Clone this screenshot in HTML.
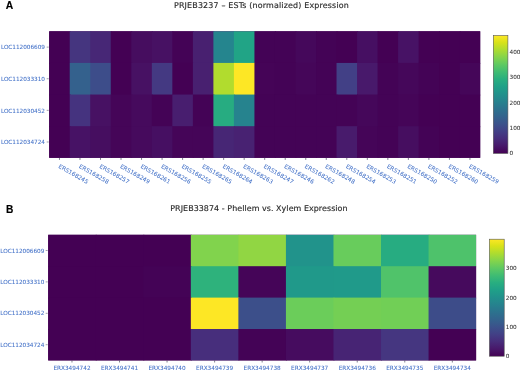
<!DOCTYPE html><html><head><meta charset="utf-8"><title>Expression heatmaps</title><style>html,body{margin:0;padding:0;background:#fff;overflow:hidden}svg{display:block}</style></head><body><svg width="520" height="371" viewBox="0 0 520 371" style="font-family:'DejaVu Sans','Liberation Sans',sans-serif"><rect width="520" height="371" fill="#fff"/><text x="5.7" y="8.6" font-family="'Liberation Sans',sans-serif" font-weight="bold" font-size="10.3" fill="#000" stroke="#000" stroke-width="0.15">A</text><text x="5.9" y="212.5" font-family="'Liberation Sans',sans-serif" font-weight="bold" font-size="10.2" fill="#000" stroke="#000" stroke-width="0.15">B</text><text x="261.4" y="8" text-anchor="middle" font-size="7.95" fill="#2a2a2a" stroke="#2a2a2a" stroke-width="0.15" textLength="174.8">PRJEB3237 – ESTs (normalized) Expression</text><text x="258.9" y="211.1" text-anchor="middle" font-size="7.95" fill="#2a2a2a" stroke="#2a2a2a" stroke-width="0.15" textLength="177.3">PRJEB33874 - Phellem vs. Xylem Expression</text><g><rect x="49.20" y="31.30" width="431.00" height="126.50" fill="#440154"/></g><g><rect x="49.20" y="31.30" width="21.52" height="32.62" fill="#440154"/><rect x="69.72" y="31.30" width="21.52" height="32.62" fill="#45357f"/><rect x="90.25" y="31.30" width="21.52" height="32.62" fill="#472776"/><rect x="110.77" y="31.30" width="21.52" height="32.62" fill="#440154"/><rect x="131.30" y="31.30" width="21.52" height="32.62" fill="#460d5f"/><rect x="151.82" y="31.30" width="21.52" height="32.62" fill="#471163"/><rect x="172.34" y="31.30" width="21.52" height="32.62" fill="#440356"/><rect x="192.87" y="31.30" width="21.52" height="32.62" fill="#482070"/><rect x="213.39" y="31.30" width="21.52" height="32.62" fill="#25858e"/><rect x="233.91" y="31.30" width="21.52" height="32.62" fill="#21a486"/><rect x="254.44" y="31.30" width="21.52" height="32.62" fill="#440356"/><rect x="274.96" y="31.30" width="21.52" height="32.62" fill="#440356"/><rect x="295.49" y="31.30" width="21.52" height="32.62" fill="#45085b"/><rect x="316.01" y="31.30" width="21.52" height="32.62" fill="#440356"/><rect x="336.53" y="31.30" width="21.52" height="32.62" fill="#440154"/><rect x="357.06" y="31.30" width="21.52" height="32.62" fill="#460f62"/><rect x="377.58" y="31.30" width="21.52" height="32.62" fill="#440154"/><rect x="398.10" y="31.30" width="21.52" height="32.62" fill="#471265"/><rect x="418.63" y="31.30" width="21.52" height="32.62" fill="#440154"/><rect x="439.15" y="31.30" width="21.52" height="32.62" fill="#440154"/><rect x="459.68" y="31.30" width="20.52" height="32.62" fill="#440154"/><rect x="49.20" y="62.93" width="21.52" height="32.62" fill="#440154"/><rect x="69.72" y="62.93" width="21.52" height="32.62" fill="#34618d"/><rect x="90.25" y="62.93" width="21.52" height="32.62" fill="#3d4d8a"/><rect x="110.77" y="62.93" width="21.52" height="32.62" fill="#440154"/><rect x="131.30" y="62.93" width="21.52" height="32.62" fill="#471163"/><rect x="151.82" y="62.93" width="21.52" height="32.62" fill="#443982"/><rect x="172.34" y="62.93" width="21.52" height="32.62" fill="#440154"/><rect x="192.87" y="62.93" width="21.52" height="32.62" fill="#482070"/><rect x="213.39" y="62.93" width="21.52" height="32.62" fill="#b1dc2e"/><rect x="233.91" y="62.93" width="21.52" height="32.62" fill="#fde725"/><rect x="254.44" y="62.93" width="21.52" height="32.62" fill="#450457"/><rect x="274.96" y="62.93" width="21.52" height="32.62" fill="#440356"/><rect x="295.49" y="62.93" width="21.52" height="32.62" fill="#450659"/><rect x="316.01" y="62.93" width="21.52" height="32.62" fill="#440356"/><rect x="336.53" y="62.93" width="21.52" height="32.62" fill="#424086"/><rect x="357.06" y="62.93" width="21.52" height="32.62" fill="#48196b"/><rect x="377.58" y="62.93" width="21.52" height="32.62" fill="#440356"/><rect x="398.10" y="62.93" width="21.52" height="32.62" fill="#45075a"/><rect x="418.63" y="62.93" width="21.52" height="32.62" fill="#440356"/><rect x="439.15" y="62.93" width="21.52" height="32.62" fill="#440154"/><rect x="459.68" y="62.93" width="20.52" height="32.62" fill="#450659"/><rect x="49.20" y="94.55" width="21.52" height="32.62" fill="#440154"/><rect x="69.72" y="94.55" width="21.52" height="32.62" fill="#45337f"/><rect x="90.25" y="94.55" width="21.52" height="32.62" fill="#471163"/><rect x="110.77" y="94.55" width="21.52" height="32.62" fill="#450558"/><rect x="131.30" y="94.55" width="21.52" height="32.62" fill="#460a5d"/><rect x="151.82" y="94.55" width="21.52" height="32.62" fill="#440356"/><rect x="172.34" y="94.55" width="21.52" height="32.62" fill="#481e6f"/><rect x="192.87" y="94.55" width="21.52" height="32.62" fill="#440356"/><rect x="213.39" y="94.55" width="21.52" height="32.62" fill="#27ac81"/><rect x="233.91" y="94.55" width="21.52" height="32.62" fill="#26838e"/><rect x="254.44" y="94.55" width="21.52" height="32.62" fill="#440356"/><rect x="274.96" y="94.55" width="21.52" height="32.62" fill="#440356"/><rect x="295.49" y="94.55" width="21.52" height="32.62" fill="#440356"/><rect x="316.01" y="94.55" width="21.52" height="32.62" fill="#440356"/><rect x="336.53" y="94.55" width="21.52" height="32.62" fill="#440356"/><rect x="357.06" y="94.55" width="21.52" height="32.62" fill="#45075a"/><rect x="377.58" y="94.55" width="21.52" height="32.62" fill="#440356"/><rect x="398.10" y="94.55" width="21.52" height="32.62" fill="#450558"/><rect x="418.63" y="94.55" width="21.52" height="32.62" fill="#440154"/><rect x="439.15" y="94.55" width="21.52" height="32.62" fill="#440154"/><rect x="459.68" y="94.55" width="20.52" height="32.62" fill="#440154"/><rect x="49.20" y="126.18" width="21.52" height="31.63" fill="#440154"/><rect x="69.72" y="126.18" width="21.52" height="31.63" fill="#471265"/><rect x="90.25" y="126.18" width="21.52" height="31.63" fill="#460e60"/><rect x="110.77" y="126.18" width="21.52" height="31.63" fill="#450558"/><rect x="131.30" y="126.18" width="21.52" height="31.63" fill="#460a5d"/><rect x="151.82" y="126.18" width="21.52" height="31.63" fill="#460f62"/><rect x="172.34" y="126.18" width="21.52" height="31.63" fill="#450558"/><rect x="192.87" y="126.18" width="21.52" height="31.63" fill="#450558"/><rect x="213.39" y="126.18" width="21.52" height="31.63" fill="#472675"/><rect x="233.91" y="126.18" width="21.52" height="31.63" fill="#482272"/><rect x="254.44" y="126.18" width="21.52" height="31.63" fill="#440356"/><rect x="274.96" y="126.18" width="21.52" height="31.63" fill="#440356"/><rect x="295.49" y="126.18" width="21.52" height="31.63" fill="#440356"/><rect x="316.01" y="126.18" width="21.52" height="31.63" fill="#440356"/><rect x="336.53" y="126.18" width="21.52" height="31.63" fill="#481b6c"/><rect x="357.06" y="126.18" width="21.52" height="31.63" fill="#450558"/><rect x="377.58" y="126.18" width="21.52" height="31.63" fill="#440356"/><rect x="398.10" y="126.18" width="21.52" height="31.63" fill="#460e60"/><rect x="418.63" y="126.18" width="21.52" height="31.63" fill="#440356"/><rect x="439.15" y="126.18" width="21.52" height="31.63" fill="#440154"/><rect x="459.68" y="126.18" width="20.52" height="31.63" fill="#440154"/></g><line x1="46.70" y1="47.11" x2="48.70" y2="47.11" stroke="#6a6a7c" stroke-width="0.65"/><text x="44.95" y="49.48" text-anchor="end" font-size="5.75" fill="#4472c8" stroke="#4472c8" stroke-width="0.06" textLength="44.0">LOC112006609</text><line x1="46.70" y1="78.74" x2="48.70" y2="78.74" stroke="#6a6a7c" stroke-width="0.65"/><text x="44.95" y="81.11" text-anchor="end" font-size="5.75" fill="#4472c8" stroke="#4472c8" stroke-width="0.06" textLength="44.0">LOC112033310</text><line x1="46.70" y1="110.36" x2="48.70" y2="110.36" stroke="#6a6a7c" stroke-width="0.65"/><text x="44.95" y="112.73" text-anchor="end" font-size="5.75" fill="#4472c8" stroke="#4472c8" stroke-width="0.06" textLength="44.0">LOC112030452</text><line x1="46.70" y1="141.99" x2="48.70" y2="141.99" stroke="#6a6a7c" stroke-width="0.65"/><text x="44.95" y="144.36" text-anchor="end" font-size="5.75" fill="#4472c8" stroke="#4472c8" stroke-width="0.06" textLength="44.0">LOC112034724</text><line x1="59.46" y1="157.80" x2="59.46" y2="159.90" stroke="#4a4a62" stroke-width="0.7"/><text transform="translate(58.06,167.40) rotate(30)" font-size="5.75" fill="#4472c8" stroke="#4472c8" stroke-width="0.06">ERS168245</text><line x1="79.99" y1="157.80" x2="79.99" y2="159.90" stroke="#4a4a62" stroke-width="0.7"/><text transform="translate(78.59,167.40) rotate(30)" font-size="5.75" fill="#4472c8" stroke="#4472c8" stroke-width="0.06">ERS168258</text><line x1="100.51" y1="157.80" x2="100.51" y2="159.90" stroke="#4a4a62" stroke-width="0.7"/><text transform="translate(99.11,167.40) rotate(30)" font-size="5.75" fill="#4472c8" stroke="#4472c8" stroke-width="0.06">ERS168257</text><line x1="121.03" y1="157.80" x2="121.03" y2="159.90" stroke="#4a4a62" stroke-width="0.7"/><text transform="translate(119.63,167.40) rotate(30)" font-size="5.75" fill="#4472c8" stroke="#4472c8" stroke-width="0.06">ERS168249</text><line x1="141.56" y1="157.80" x2="141.56" y2="159.90" stroke="#4a4a62" stroke-width="0.7"/><text transform="translate(140.16,167.40) rotate(30)" font-size="5.75" fill="#4472c8" stroke="#4472c8" stroke-width="0.06">ERS168261</text><line x1="162.08" y1="157.80" x2="162.08" y2="159.90" stroke="#4a4a62" stroke-width="0.7"/><text transform="translate(160.68,167.40) rotate(30)" font-size="5.75" fill="#4472c8" stroke="#4472c8" stroke-width="0.06">ERS168256</text><line x1="182.60" y1="157.80" x2="182.60" y2="159.90" stroke="#4a4a62" stroke-width="0.7"/><text transform="translate(181.20,167.40) rotate(30)" font-size="5.75" fill="#4472c8" stroke="#4472c8" stroke-width="0.06">ERS168255</text><line x1="203.13" y1="157.80" x2="203.13" y2="159.90" stroke="#4a4a62" stroke-width="0.7"/><text transform="translate(201.73,167.40) rotate(30)" font-size="5.75" fill="#4472c8" stroke="#4472c8" stroke-width="0.06">ERS168265</text><line x1="223.65" y1="157.80" x2="223.65" y2="159.90" stroke="#4a4a62" stroke-width="0.7"/><text transform="translate(222.25,167.40) rotate(30)" font-size="5.75" fill="#4472c8" stroke="#4472c8" stroke-width="0.06">ERS168264</text><line x1="244.18" y1="157.80" x2="244.18" y2="159.90" stroke="#4a4a62" stroke-width="0.7"/><text transform="translate(242.78,167.40) rotate(30)" font-size="5.75" fill="#4472c8" stroke="#4472c8" stroke-width="0.06">ERS168263</text><line x1="264.70" y1="157.80" x2="264.70" y2="159.90" stroke="#4a4a62" stroke-width="0.7"/><text transform="translate(263.30,167.40) rotate(30)" font-size="5.75" fill="#4472c8" stroke="#4472c8" stroke-width="0.06">ERS168247</text><line x1="285.22" y1="157.80" x2="285.22" y2="159.90" stroke="#4a4a62" stroke-width="0.7"/><text transform="translate(283.82,167.40) rotate(30)" font-size="5.75" fill="#4472c8" stroke="#4472c8" stroke-width="0.06">ERS168246</text><line x1="305.75" y1="157.80" x2="305.75" y2="159.90" stroke="#4a4a62" stroke-width="0.7"/><text transform="translate(304.35,167.40) rotate(30)" font-size="5.75" fill="#4472c8" stroke="#4472c8" stroke-width="0.06">ERS168262</text><line x1="326.27" y1="157.80" x2="326.27" y2="159.90" stroke="#4a4a62" stroke-width="0.7"/><text transform="translate(324.87,167.40) rotate(30)" font-size="5.75" fill="#4472c8" stroke="#4472c8" stroke-width="0.06">ERS168248</text><line x1="346.80" y1="157.80" x2="346.80" y2="159.90" stroke="#4a4a62" stroke-width="0.7"/><text transform="translate(345.40,167.40) rotate(30)" font-size="5.75" fill="#4472c8" stroke="#4472c8" stroke-width="0.06">ERS168254</text><line x1="367.32" y1="157.80" x2="367.32" y2="159.90" stroke="#4a4a62" stroke-width="0.7"/><text transform="translate(365.92,167.40) rotate(30)" font-size="5.75" fill="#4472c8" stroke="#4472c8" stroke-width="0.06">ERS168253</text><line x1="387.84" y1="157.80" x2="387.84" y2="159.90" stroke="#4a4a62" stroke-width="0.7"/><text transform="translate(386.44,167.40) rotate(30)" font-size="5.75" fill="#4472c8" stroke="#4472c8" stroke-width="0.06">ERS168251</text><line x1="408.37" y1="157.80" x2="408.37" y2="159.90" stroke="#4a4a62" stroke-width="0.7"/><text transform="translate(406.97,167.40) rotate(30)" font-size="5.75" fill="#4472c8" stroke="#4472c8" stroke-width="0.06">ERS168250</text><line x1="428.89" y1="157.80" x2="428.89" y2="159.90" stroke="#4a4a62" stroke-width="0.7"/><text transform="translate(427.49,167.40) rotate(30)" font-size="5.75" fill="#4472c8" stroke="#4472c8" stroke-width="0.06">ERS168252</text><line x1="449.41" y1="157.80" x2="449.41" y2="159.90" stroke="#4a4a62" stroke-width="0.7"/><text transform="translate(448.01,167.40) rotate(30)" font-size="5.75" fill="#4472c8" stroke="#4472c8" stroke-width="0.06">ERS168260</text><line x1="469.94" y1="157.80" x2="469.94" y2="159.90" stroke="#4a4a62" stroke-width="0.7"/><text transform="translate(468.54,167.40) rotate(30)" font-size="5.75" fill="#4472c8" stroke="#4472c8" stroke-width="0.06">ERS168259</text><defs><linearGradient id="ga" x1="0" y1="1" x2="0" y2="0"><stop offset="0.0000" stop-color="#440154"/><stop offset="0.0627" stop-color="#48186a"/><stop offset="0.1255" stop-color="#472d7b"/><stop offset="0.1882" stop-color="#424086"/><stop offset="0.2510" stop-color="#3b528b"/><stop offset="0.3137" stop-color="#33638d"/><stop offset="0.3765" stop-color="#2c728e"/><stop offset="0.4392" stop-color="#26828e"/><stop offset="0.5020" stop-color="#21918c"/><stop offset="0.5647" stop-color="#1fa088"/><stop offset="0.6275" stop-color="#28ae80"/><stop offset="0.6902" stop-color="#3fbc73"/><stop offset="0.7529" stop-color="#5ec962"/><stop offset="0.8157" stop-color="#84d44b"/><stop offset="0.8784" stop-color="#addc30"/><stop offset="0.9412" stop-color="#d8e219"/><stop offset="1.0000" stop-color="#fde725"/></linearGradient></defs><rect x="493.30" y="35.50" width="14.60" height="117.90" fill="url(#ga)" stroke="#555" stroke-width="0.6"/><text x="509.50" y="155.37" font-size="5.75" fill="#333" stroke="#333" stroke-width="0.06">0</text><text x="509.50" y="129.97" font-size="5.75" fill="#333" stroke="#333" stroke-width="0.06">100</text><text x="509.50" y="104.67" font-size="5.75" fill="#333" stroke="#333" stroke-width="0.06">200</text><text x="509.50" y="79.27" font-size="5.75" fill="#333" stroke="#333" stroke-width="0.06">300</text><text x="509.50" y="53.87" font-size="5.75" fill="#333" stroke="#333" stroke-width="0.06">400</text><g><rect x="48.20" y="234.80" width="427.90" height="125.60" fill="#440154"/></g><g><rect x="48.20" y="234.80" width="48.54" height="32.40" fill="#440154"/><rect x="95.74" y="234.80" width="48.54" height="32.40" fill="#440154"/><rect x="143.29" y="234.80" width="48.54" height="32.40" fill="#440154"/><rect x="190.83" y="234.80" width="48.54" height="32.40" fill="#81d34d"/><rect x="238.38" y="234.80" width="48.54" height="32.40" fill="#91d643"/><rect x="285.92" y="234.80" width="48.54" height="32.40" fill="#21938b"/><rect x="333.47" y="234.80" width="48.54" height="32.40" fill="#68cc5c"/><rect x="381.01" y="234.80" width="48.54" height="32.40" fill="#27ac81"/><rect x="428.56" y="234.80" width="47.54" height="32.40" fill="#4ec26b"/><rect x="48.20" y="266.20" width="48.54" height="32.40" fill="#440154"/><rect x="95.74" y="266.20" width="48.54" height="32.40" fill="#440154"/><rect x="143.29" y="266.20" width="48.54" height="32.40" fill="#440356"/><rect x="190.83" y="266.20" width="48.54" height="32.40" fill="#2eb27c"/><rect x="238.38" y="266.20" width="48.54" height="32.40" fill="#450558"/><rect x="285.92" y="266.20" width="48.54" height="32.40" fill="#20998a"/><rect x="333.47" y="266.20" width="48.54" height="32.40" fill="#209a8a"/><rect x="381.01" y="266.20" width="48.54" height="32.40" fill="#50c36a"/><rect x="428.56" y="266.20" width="47.54" height="32.40" fill="#460a5d"/><rect x="48.20" y="297.60" width="48.54" height="32.40" fill="#440154"/><rect x="95.74" y="297.60" width="48.54" height="32.40" fill="#440154"/><rect x="143.29" y="297.60" width="48.54" height="32.40" fill="#440154"/><rect x="190.83" y="297.60" width="48.54" height="32.40" fill="#fde725"/><rect x="238.38" y="297.60" width="48.54" height="32.40" fill="#3c4f8a"/><rect x="285.92" y="297.60" width="48.54" height="32.40" fill="#6bcd5a"/><rect x="333.47" y="297.60" width="48.54" height="32.40" fill="#74cf54"/><rect x="381.01" y="297.60" width="48.54" height="32.40" fill="#71cf56"/><rect x="428.56" y="297.60" width="47.54" height="32.40" fill="#3d4c89"/><rect x="48.20" y="329.00" width="48.54" height="31.40" fill="#440154"/><rect x="95.74" y="329.00" width="48.54" height="31.40" fill="#440154"/><rect x="143.29" y="329.00" width="48.54" height="31.40" fill="#440154"/><rect x="190.83" y="329.00" width="48.54" height="31.40" fill="#472e7c"/><rect x="238.38" y="329.00" width="48.54" height="31.40" fill="#440356"/><rect x="285.92" y="329.00" width="48.54" height="31.40" fill="#460c5f"/><rect x="333.47" y="329.00" width="48.54" height="31.40" fill="#472474"/><rect x="381.01" y="329.00" width="48.54" height="31.40" fill="#453680"/><rect x="428.56" y="329.00" width="47.54" height="31.40" fill="#440154"/></g><line x1="45.70" y1="250.50" x2="47.70" y2="250.50" stroke="#6a6a7c" stroke-width="0.65"/><text x="44.30" y="252.57" text-anchor="end" font-size="5.75" fill="#4472c8" stroke="#4472c8" stroke-width="0.06" textLength="44.0">LOC112006609</text><line x1="45.70" y1="281.90" x2="47.70" y2="281.90" stroke="#6a6a7c" stroke-width="0.65"/><text x="44.30" y="283.97" text-anchor="end" font-size="5.75" fill="#4472c8" stroke="#4472c8" stroke-width="0.06" textLength="44.0">LOC112033310</text><line x1="45.70" y1="313.30" x2="47.70" y2="313.30" stroke="#6a6a7c" stroke-width="0.65"/><text x="44.30" y="315.37" text-anchor="end" font-size="5.75" fill="#4472c8" stroke="#4472c8" stroke-width="0.06" textLength="44.0">LOC112030452</text><line x1="45.70" y1="344.70" x2="47.70" y2="344.70" stroke="#6a6a7c" stroke-width="0.65"/><text x="44.30" y="346.77" text-anchor="end" font-size="5.75" fill="#4472c8" stroke="#4472c8" stroke-width="0.06" textLength="44.0">LOC112034724</text><line x1="71.97" y1="360.40" x2="71.97" y2="362.50" stroke="#4a4a62" stroke-width="0.7"/><text x="71.97" y="370.20" text-anchor="middle" font-size="5.75" fill="#4472c8" stroke="#4472c8" stroke-width="0.06">ERX3494742</text><line x1="119.52" y1="360.40" x2="119.52" y2="362.50" stroke="#4a4a62" stroke-width="0.7"/><text x="119.52" y="370.20" text-anchor="middle" font-size="5.75" fill="#4472c8" stroke="#4472c8" stroke-width="0.06">ERX3494741</text><line x1="167.06" y1="360.40" x2="167.06" y2="362.50" stroke="#4a4a62" stroke-width="0.7"/><text x="167.06" y="370.20" text-anchor="middle" font-size="5.75" fill="#4472c8" stroke="#4472c8" stroke-width="0.06">ERX3494740</text><line x1="214.61" y1="360.40" x2="214.61" y2="362.50" stroke="#4a4a62" stroke-width="0.7"/><text x="214.61" y="370.20" text-anchor="middle" font-size="5.75" fill="#4472c8" stroke="#4472c8" stroke-width="0.06">ERX3494739</text><line x1="262.15" y1="360.40" x2="262.15" y2="362.50" stroke="#4a4a62" stroke-width="0.7"/><text x="262.15" y="370.20" text-anchor="middle" font-size="5.75" fill="#4472c8" stroke="#4472c8" stroke-width="0.06">ERX3494738</text><line x1="309.69" y1="360.40" x2="309.69" y2="362.50" stroke="#4a4a62" stroke-width="0.7"/><text x="309.69" y="370.20" text-anchor="middle" font-size="5.75" fill="#4472c8" stroke="#4472c8" stroke-width="0.06">ERX3494737</text><line x1="357.24" y1="360.40" x2="357.24" y2="362.50" stroke="#4a4a62" stroke-width="0.7"/><text x="357.24" y="370.20" text-anchor="middle" font-size="5.75" fill="#4472c8" stroke="#4472c8" stroke-width="0.06">ERX3494736</text><line x1="404.78" y1="360.40" x2="404.78" y2="362.50" stroke="#4a4a62" stroke-width="0.7"/><text x="404.78" y="370.20" text-anchor="middle" font-size="5.75" fill="#4472c8" stroke="#4472c8" stroke-width="0.06">ERX3494735</text><line x1="452.33" y1="360.40" x2="452.33" y2="362.50" stroke="#4a4a62" stroke-width="0.7"/><text x="452.33" y="370.20" text-anchor="middle" font-size="5.75" fill="#4472c8" stroke="#4472c8" stroke-width="0.06">ERX3494734</text><defs><linearGradient id="gb" x1="0" y1="1" x2="0" y2="0"><stop offset="0.0000" stop-color="#440154"/><stop offset="0.0627" stop-color="#48186a"/><stop offset="0.1255" stop-color="#472d7b"/><stop offset="0.1882" stop-color="#424086"/><stop offset="0.2510" stop-color="#3b528b"/><stop offset="0.3137" stop-color="#33638d"/><stop offset="0.3765" stop-color="#2c728e"/><stop offset="0.4392" stop-color="#26828e"/><stop offset="0.5020" stop-color="#21918c"/><stop offset="0.5647" stop-color="#1fa088"/><stop offset="0.6275" stop-color="#28ae80"/><stop offset="0.6902" stop-color="#3fbc73"/><stop offset="0.7529" stop-color="#5ec962"/><stop offset="0.8157" stop-color="#84d44b"/><stop offset="0.8784" stop-color="#addc30"/><stop offset="0.9412" stop-color="#d8e219"/><stop offset="1.0000" stop-color="#fde725"/></linearGradient></defs><rect x="489.40" y="239.20" width="14.80" height="117.00" fill="url(#gb)" stroke="#555" stroke-width="0.6"/><text x="505.80" y="358.27" font-size="5.75" fill="#333" stroke="#333" stroke-width="0.06">0</text><text x="505.80" y="328.87" font-size="5.75" fill="#333" stroke="#333" stroke-width="0.06">100</text><text x="505.80" y="299.57" font-size="5.75" fill="#333" stroke="#333" stroke-width="0.06">200</text><text x="505.80" y="270.17" font-size="5.75" fill="#333" stroke="#333" stroke-width="0.06">300</text></svg></body></html>
